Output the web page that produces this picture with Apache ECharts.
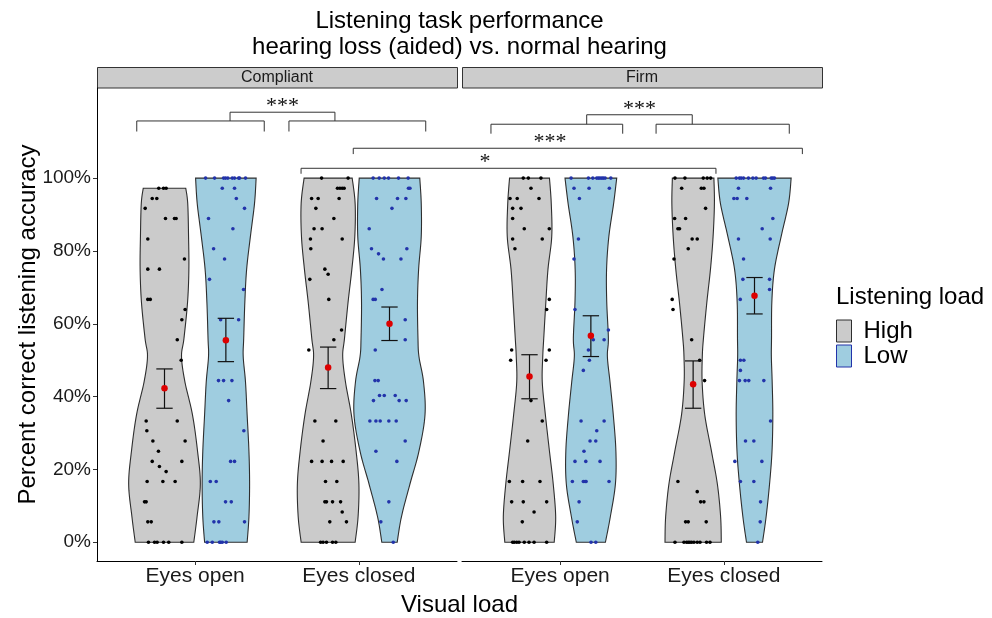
<!DOCTYPE html>
<html>
<head>
<meta charset="utf-8">
<script src="https://cdn.jsdelivr.net/npm/echarts@6/dist/echarts.min.js"></script>
<style>
html, body { margin: 0; padding: 0; background: #fff; }
#chart { width: 992px; height: 618px; }
</style>
</head>
<body>
<div id="chart"></div>
<script>
// ---------------------------------------------------------------
// Data
// ---------------------------------------------------------------
const facets = ['Compliant', 'Firm'];
const visualLoad = ['Eyes open', 'Eyes closed'];
const listeningLoad = ['High', 'Low'];
const yTickValues = [0, 20, 40, 60, 80, 100];

// Accuracy levels (%) at which each violin's half-width is given;
// the first level is replaced by the group's highest score.
const violinLevels = [100, 93, 84, 75, 66, 56, 51, 44, 35, 25, 16, 7, 0];

// Violin half-widths (hundredths of one visual-load slot) at violinLevels
const widthCompliantOpenHigh   = [13.0, 14.2, 14.7, 14.9, 14.1, 11.9, 10.4, 12.5, 17.1, 20.2, 21.9, 19.9, 17.9];
const widthCompliantOpenLow    = [18.5, 17.5, 15.0, 12.7, 11.6, 10.9, 10.6, 12.0, 13.0, 14.1, 14.5, 14.1, 13.0];
const widthCompliantClosedHigh = [14.7, 16.5, 16.3, 14.5, 12.2, 10.0, 8.9, 10.6, 14.2, 17.1, 18.8, 18.3, 16.5];
const widthCompliantClosedLow  = [18.5, 19.4, 19.4, 17.8, 17.1, 17.4, 18.0, 20.8, 21.7, 18.0, 12.5, 7.3, 4.7];
const widthFirmOpenHigh        = [12.2, 13.3, 13.6, 11.3, 10.0, 8.7, 8.1, 7.8, 9.7, 12.2, 14.5, 16.0, 15.1];
const widthFirmOpenLow         = [15.8, 13.9, 11.0, 9.6, 9.7, 10.7, 10.1, 11.7, 13.7, 15.3, 15.0, 11.9, 8.9];
const widthFirmClosedHigh      = [12.7, 13.0, 12.2, 10.6, 8.4, 6.3, 5.6, 5.5, 7.1, 11.2, 14.8, 16.8, 17.2];
const widthFirmClosedLow       = [22.4, 20.8, 16.3, 12.2, 10.6, 10.4, 10.3, 10.8, 11.2, 10.7, 9.2, 7.1, 4.9];

// Individual scores: [percent correct, horizontal jitter in hundredths of a slot]
const pointsCompliantOpenHigh = [
  [97.2,-3.5],[97.2,-0.6],[97.2,1.0],[94.4,-7.5],[94.4,-4.7],[91.7,-11.8],
  [88.9,0.6],[88.9,6.1],[88.9,7.1],[83.3,-10.2],[77.8,12.2],[75,-10.2],[75,-3.1],
  [66.7,-10.2],[66.7,-8.7],[63.9,12.6],[61.1,10.6],[55.6,7.8],[50,10.2],
  [33.3,-11.2],[33.3,7.8],[30.6,-10.8],[27.8,-7.1],[27.8,12.6],[25,-3.7],
  [22.2,-7.5],[22.2,10.6],[20.8,-3.1],[19.4,1.0],[16.7,-10.6],[16.7,-1.0],[16.7,6.5],
  [11.1,-12.2],[11.1,-11.2],[5.6,-10.2],[5.6,-8.1],
  [0,-9.8],[0,-6.1],[0,-4.5],[0,-0.6],[0,2.6],[0,10.6]
];
const pointsCompliantOpenLow = [
  [100,-12.4],[100,-6.9],[100,-1.4],[100,-0.2],[100,1.2],[100,3.9],[100,5.3],[100,7.8],[100,8.4],[100,12.0],
  [97.2,-2.2],[97.2,5.3],[94.4,6.4],[91.7,11.4],[88.9,-10.6],[86.1,4.3],[80.6,-7.5],
  [77.8,-0.8],[72.2,-10.0],[69.4,10.8],[61.1,-3.2],[61.1,7.8],
  [44.4,-4.5],[44.4,-1.4],[44.4,3.7],[38.9,1.7],[30.6,11.0],[22.2,2.9],[22.2,5.3],
  [16.7,-9.5],[16.7,-5.9],[11.1,-0.2],[11.1,3.3],[5.6,-7.3],[5.6,-4.3],[5.6,11.4],
  [0,-11.4],[0,-8.3],[0,-3.9],[0,-3.2],[0,-2.2],[0,0.2]
];
const pointsCompliantClosedHigh = [
  [100,-4.0],[100,12.2],[97.2,5.7],[97.2,7.2],[97.2,8.6],[97.2,9.8],
  [94.4,-10.1],[94.4,-6.1],[94.4,6.7],[91.7,-7.5],[88.9,3.5],[86.1,-8.6],[86.1,-3.7],
  [83.3,-10.8],[83.3,8.6],[80.6,-10.6],[75,-2.0],[73.6,0],[72.2,-11.2],[66.7,0.4],
  [58.3,8.2],[55.6,3.5],[52.8,-11.8],[33.3,-8.1],[33.3,4.7],[27.8,-3.1],
  [22.2,-10.1],[22.2,-3.7],[22.2,2.1],[22.2,9.2],[16.7,-1.6],[16.7,5.3],
  [11.1,-2.0],[11.1,-1.0],[11.1,2.7],[11.1,7.6],[8.3,8.6],[5.6,1.0],[5.6,11.2],
  [0,-4.6],[0,-3.1],[0,-1.0],[0,2.7],[0,4.7]
];
const pointsCompliantClosedLow = [
  [100,-10.0],[100,-6.3],[100,-3.2],[100,-0.6],[100,5.5],[100,11.4],
  [97.2,11.6],[97.2,12.5],[94.4,-7.9],[94.4,4.9],[94.4,10.0],[91.7,1.5],[86.1,-12.4],
  [80.6,-11.0],[80.6,10.6],[79.2,-6.7],[77.8,-3.7],[77.8,7.0],[69.4,-4.6],
  [66.7,-10.0],[66.7,-8.7],[61.1,9.6],[55.6,9.6],[52.8,-8.7],[44.4,-8.9],[44.4,-6.9],
  [40.3,-6.1],[40.3,-3.2],[40.3,3.5],[38.9,-9.8],[38.9,5.9],[38.9,10.2],
  [33.3,-12.0],[33.3,-8.3],[33.3,-5.7],[33.3,-0.4],[33.3,4.1],[27.8,9.6],[25,-8.3],
  [22.2,4.5],[11.1,-0.4],[5.6,-5.3],[0,2.3]
];
const pointsFirmOpenHigh = [
  [100,-3.8],[100,-0.7],[100,7.0],[97.2,0.9],[94.4,-11.9],[94.4,-7.5],[94.4,5.8],
  [91.7,-10.3],[91.7,-5.2],[88.9,-10.3],[86.1,-3.2],[86.1,12.1],[83.3,-10.3],[83.3,7.8],
  [80.6,-8.9],[66.7,12.1],[63.9,10.5],[52.8,-10.9],[52.8,12.1],[50,-11.5],[50,10.1],
  [38.9,0.9],[33.3,7.8],[27.8,-1.1],[16.7,-12.3],[16.7,-4.2],[16.7,6.4],
  [11.1,-10.9],[11.1,-3.8],[11.1,10.5],[8.3,2.8],[5.6,-4.4],
  [0,-10.3],[0,-9.3],[0,-7.8],[0,-6.4],[0,-3.2],[0,-0.3],[0,2.8],[0,10.5]
];
const pointsFirmOpenLow = [
  [100,-12.1],[100,-1.5],[100,1.2],[100,3.6],[100,4.6],[100,5.6],[100,6.7],[100,7.6],[100,8.7],[100,12.2],
  [97.2,-10.3],[97.2,-1.1],[97.2,11.3],[94.4,-7.0],[83.3,-7.6],[77.8,-10.3],[63.9,-9.7],
  [58.3,10.7],[55.6,1.5],[55.6,8.1],[52.8,-1.5],[50,-0.9],[47.2,-4.6],
  [33.3,-6.0],[33.3,8.1],[30.6,3.6],[27.8,-0.5],[27.8,3.0],[25,-4.2],
  [22.2,-9.7],[22.2,-3.1],[22.2,5.6],[16.7,-11.3],[16.7,-4.6],[16.7,-3.5],[16.7,-2.9],[16.7,11.1],
  [11.1,-7.2],[5.6,-8.3],[0,0.1],[0,3.0]
];
const pointsFirmClosedHigh = [
  [100,-11.1],[100,-5.0],[100,6.2],[100,8.6],[100,10.7],[97.2,-7.0],[97.2,5.0],[97.2,6.6],
  [91.7,7.6],[88.9,-11.3],[88.9,-4.6],[86.1,-9.3],[86.1,-8.3],[83.3,-0.6],[83.3,2.5],
  [80.6,-3.0],[77.8,-11.7],[66.7,-12.8],[63.9,-12.3],[55.6,-0.9],[50,4.0],[44.4,7.0],
  [16.7,-9.3],[13.9,2.5],[11.1,4.6],[11.1,6.6],[5.6,-4.6],[5.6,-3.0],[5.6,8.0],
  [0,-11.1],[0,-5.6],[0,-4.0],[0,-3.0],[0,-2.0],[0,-0.9],[0,0.5],[0,2.5],[0,4.2],[0,8.2],[0,10.3]
];
const pointsFirmClosedLow = [
  [100,-11.2],[100,-9.2],[100,-8.1],[100,-6.7],[100,-3.7],[100,-1.0],[100,1.0],[100,5.5],[100,6.7],[100,10.2],[100,11.2],[100,12.2],
  [97.2,-9.8],[97.2,9.8],[94.4,-12.6],[94.4,-10.6],[94.4,-4.7],[88.9,11.2],[86.1,4.7],
  [83.3,-9.8],[83.3,9.6],[77.8,-6.7],[72.2,-7.1],[72.2,9.2],[69.4,9.2],[66.7,-8.7],
  [50,-8.6],[50,-6.5],[47.2,-8.6],[44.4,-9.2],[44.4,-5.7],[44.4,-3.5],[44.4,5.7],
  [33.3,9.8],[27.8,-5.5],[27.8,-0.4],[22.2,-12.0],[22.2,4.5],[16.7,-8.6],[16.7,-0.4],
  [11.1,3.7],[5.6,3.5],[0,2.0]
];

// Group means with error-bar limits (Compliant open H/L, closed H/L, Firm open H/L, closed H/L)
const meanAccuracy = [42.3, 55.5, 48.0, 60.0, 45.5, 56.7, 43.4, 67.7];
const errorLower   = [36.8, 49.6, 42.2, 55.4, 39.4, 51.0, 36.8, 62.7];
const errorUpper   = [47.6, 61.5, 53.6, 64.6, 51.5, 62.2, 49.8, 72.7];

// Significance brackets: ends as [facet, x], bar height, tip height (%), label and label anchor
const bracketStart = [[0, 0.643], [0, 1.573], [0, 1.213], [1, 0.577], [1, 1.586], [1, 1.162], [0, 1.966], [0, 1.647]];
const bracketEnd   = [[0, 1.422], [0, 2.409], [0, 1.854], [1, 1.382], [1, 2.400], [1, 1.807], [1, 2.480], [1, 1.952]];
const bracketBar   = [115.7, 115.7, 118.1, 114.8, 114.8, 117.4, 108.2, 102.7];
const bracketTip   = [112.8, 112.8, 115.7, 112.2, 112.2, 114.8, 106.6, 101.2];
const bracketLabel = ['', '', '***', '', '', '***', '***', '*'];
const bracketLabelAt = [null, null, [0, 1.533, 118.1], null, null, [1, 1.485, 117.4], [1, 0.938, 108.2], [1, 0.541, 102.7]];

// ---------------------------------------------------------------
// Styling / layout
// ---------------------------------------------------------------
const FONT = '"Liberation Sans", Arial, Helvetica, sans-serif';
const SERIF = '"Liberation Serif", "Times New Roman", serif';
const FILL = ['#cbcbcb', '#9fcde0'];
const POINT = ['#000000', '#2233aa'];
const OUTLINE = '#2e2e2e';
const DODGE = 0.1875;
const CAP = 0.05;
const PANEL_LEFT = [97, 462];
const PANEL_W = 360, PANEL_TOP = 88, PANEL_H = 473;

const widthSets = [widthCompliantOpenHigh, widthCompliantOpenLow, widthCompliantClosedHigh, widthCompliantClosedLow,
                   widthFirmOpenHigh, widthFirmOpenLow, widthFirmClosedHigh, widthFirmClosedLow];
const pointSets = [pointsCompliantOpenHigh, pointsCompliantOpenLow, pointsCompliantClosedHigh, pointsCompliantClosedLow,
                   pointsFirmOpenHigh, pointsFirmOpenLow, pointsFirmClosedHigh, pointsFirmClosedLow];

const groups = [];
facets.forEach((f, fi) => visualLoad.forEach((v, vi) => listeningLoad.forEach((l, li) => {
  const idx = groups.length;
  groups.push({
    facet: fi, load: li,
    x: vi + 1 + (li === 0 ? -DODGE : DODGE),
    top: Math.max.apply(null, pointSets[idx].map(p => p[0])),
    idx: idx
  });
})));

// Catmull-Rom smoothing of an outline given in pixel space
function smoothOutline(pts, steps) {
  const out = [];
  for (let i = 0; i < pts.length - 1; i++) {
    const p0 = pts[Math.max(i - 1, 0)], p1 = pts[i], p2 = pts[i + 1], p3 = pts[Math.min(i + 2, pts.length - 1)];
    for (let s = 0; s < steps; s++) {
      const t = s / steps, t2 = t * t, t3 = t2 * t;
      out.push([0, 1].map(k => 0.5 * (2 * p1[k] + (-p0[k] + p2[k]) * t +
        (2 * p0[k] - 5 * p1[k] + 4 * p2[k] - p3[k]) * t2 + (-p0[k] + 3 * p1[k] - 3 * p2[k] + p3[k]) * t3)));
    }
  }
  out.push(pts[pts.length - 1]);
  return out;
}

function renderViolin(params, api) {
  const g = groups[api.value(2)];
  const widths = widthSets[g.idx];
  const levels = [g.top].concat(violinLevels.slice(1));
  const right = levels.map((lv, i) => api.coord([g.x + widths[i] / 100, lv]));
  const left = levels.map((lv, i) => api.coord([g.x - widths[i] / 100, lv])).reverse();
  const poly = smoothOutline(right, 10).concat(smoothOutline(left, 10));
  return {
    type: 'polygon',
    shape: { points: poly },
    style: { fill: FILL[g.load], stroke: OUTLINE, lineWidth: 1.1 }
  };
}

function renderErrorBar(params, api) {
  const x = api.value(0), lo = api.value(1), hi = api.value(2);
  const a = api.coord([x, hi]), b = api.coord([x, lo]);
  const l1 = api.coord([x - CAP, hi]), r1 = api.coord([x + CAP, hi]);
  const l2 = api.coord([x - CAP, lo]), r2 = api.coord([x + CAP, lo]);
  const st = { stroke: '#111', lineWidth: 1.2 };
  return {
    type: 'group',
    children: [
      { type: 'line', shape: { x1: a[0], y1: a[1], x2: b[0], y2: b[1] }, style: st },
      { type: 'line', shape: { x1: l1[0], y1: l1[1], x2: r1[0], y2: r1[1] }, style: st },
      { type: 'line', shape: { x1: l2[0], y1: l2[1], x2: r2[0], y2: r2[1] }, style: st }
    ]
  };
}

const series = [];
facets.forEach((f, fi) => {
  listeningLoad.forEach((l, li) => {
    const gs = groups.filter(g => g.facet === fi && g.load === li);
    series.push({
      type: 'custom', name: l, xAxisIndex: fi, yAxisIndex: fi, z: 1,
      renderItem: renderViolin, encode: { x: 0, y: 1 },
      data: gs.map(g => [g.x, g.top, g.idx]), silent: true
    });
    series.push({
      type: 'scatter', name: l + ' scores', xAxisIndex: fi, yAxisIndex: fi, z: 2,
      symbol: 'circle', symbolSize: 3.6, silent: true,
      itemStyle: { color: POINT[li], opacity: 1 },
      data: [].concat.apply([], gs.map(g => pointSets[g.idx].map(p => [g.x + p[1] / 100, p[0]])))
    });
  });
  const gs = groups.filter(g => g.facet === fi);
  series.push({
    type: 'custom', name: 'error', xAxisIndex: fi, yAxisIndex: fi, z: 3, silent: true,
    renderItem: renderErrorBar, encode: { x: 0, y: [1, 2] },
    data: gs.map(g => [g.x, errorLower[g.idx], errorUpper[g.idx]])
  });
  series.push({
    type: 'scatter', name: 'mean', xAxisIndex: fi, yAxisIndex: fi, z: 4, silent: true,
    symbol: 'circle', symbolSize: 6.5, itemStyle: { color: '#dd0000', opacity: 1 },
    data: gs.map(g => [g.x, meanAccuracy[g.idx]])
  });
});

const option = {
  animation: false,
  backgroundColor: '#ffffff',
  grid: facets.map((f, i) => ({ left: PANEL_LEFT[i], top: PANEL_TOP, width: PANEL_W, height: PANEL_H })),
  xAxis: facets.map((f, i) => ({
    gridIndex: i, type: 'value', min: 0.4, max: 2.6,
    axisLine: { show: true, onZero: false, lineStyle: { color: '#000', width: 1 } },
    axisTick: { show: true, customValues: [1, 2], length: 4, lineStyle: { color: '#333' } },
    axisLabel: { customValues: [1, 2], formatter: v => visualLoad[Math.round(v) - 1], fontSize: 21,
                 fontFamily: FONT, color: '#1a1a1a', margin: 5 },
    splitLine: { show: false }
  })),
  yAxis: facets.map((f, i) => ({
    gridIndex: i, type: 'value', min: -5.15, max: 124.75, show: i === 0,
    axisLine: { show: true, onZero: false, lineStyle: { color: '#000', width: 1 } },
    axisTick: { show: true, customValues: yTickValues, length: 4, lineStyle: { color: '#333' } },
    axisLabel: { customValues: yTickValues, formatter: v => v + '%', fontSize: 19,
                 fontFamily: FONT, color: '#1a1a1a', margin: 6 },
    splitLine: { show: false }
  })),
  legend: {
    orient: 'vertical', left: 836, top: 319, padding: 0, itemGap: 1,
    itemWidth: 15, itemHeight: 22, selectedMode: false,
    textStyle: { fontSize: 24, fontFamily: FONT, color: '#000', padding: [0, 0, 0, 7] },
    data: [
      { name: 'High', icon: 'rect', itemStyle: { color: FILL[0], borderColor: OUTLINE, borderWidth: 1 } },
      { name: 'Low', icon: 'rect', itemStyle: { color: FILL[1], borderColor: POINT[1], borderWidth: 1 } }
    ]
  },
  series: series
};

const chart = echarts.init(document.getElementById('chart'));
chart.setOption(option);

// Titles, facet strips, axis titles, legend title and significance brackets
const graphics = [];
const titleStyle = { fontSize: 24, fontFamily: FONT, fill: '#000', align: 'center', verticalAlign: 'middle' };
graphics.push({ type: 'text', x: 459.5, y: 21, style: Object.assign({ text: 'Listening task performance' }, titleStyle) });
graphics.push({ type: 'text', x: 459.5, y: 47, style: Object.assign({ text: 'hearing loss (aided) vs. normal hearing' }, titleStyle) });
graphics.push({ type: 'text', x: 459.5, y: 605, style: Object.assign({ text: 'Visual load' }, titleStyle) });
graphics.push({ type: 'text', x: 28, y: 324.5, rotation: Math.PI / 2,
                style: Object.assign({ text: 'Percent correct listening accuracy' }, titleStyle) });
graphics.push({ type: 'text', x: 836, y: 297,
                style: { text: 'Listening load', fontSize: 24, fontFamily: FONT, fill: '#000', align: 'left', verticalAlign: 'middle' } });
facets.forEach((f, i) => {
  graphics.push({ type: 'rect', shape: { x: PANEL_LEFT[i] + 0.5, y: 67.5, width: PANEL_W, height: 20.5 },
                  style: { fill: '#cccccc', stroke: '#333', lineWidth: 1 } });
  graphics.push({ type: 'text', x: PANEL_LEFT[i] + PANEL_W / 2, y: 78,
                  style: { text: f, fontSize: 16, fontFamily: FONT, fill: '#1a1a1a', align: 'center', verticalAlign: 'middle' } });
});
// dots inside the legend keys
listeningLoad.forEach((l, li) => {
  graphics.push({ type: 'circle', shape: { cx: 843.5, cy: 330 + li * 23, r: 1 }, style: { fill: POINT[li] } });
});

function toPx(facet, x, y) {
  return chart.convertToPixel({ gridIndex: facet }, [x, y]);
}
bracketStart.forEach((s, i) => {
  const e = bracketEnd[i];
  const p1 = toPx(s[0], s[1], bracketTip[i]), p2 = toPx(s[0], s[1], bracketBar[i]);
  const p3 = toPx(e[0], e[1], bracketBar[i]), p4 = toPx(e[0], e[1], bracketTip[i]);
  graphics.push({ type: 'polyline', shape: { points: [p1, p2, p3, p4] },
                  style: { stroke: '#333', lineWidth: 1, fill: null } });
  if (bracketLabel[i]) {
    const a = bracketLabelAt[i];
    const p = toPx(a[0], a[1], a[2]);
    graphics.push({ type: 'text', x: p[0], y: p[1] + 5,
                    style: { text: bracketLabel[i], fontSize: 22, fontFamily: SERIF, fill: '#111',
                             align: 'center', verticalAlign: 'bottom' } });
  }
});
chart.setOption({ graphic: graphics });
</script>
</body>
</html>
